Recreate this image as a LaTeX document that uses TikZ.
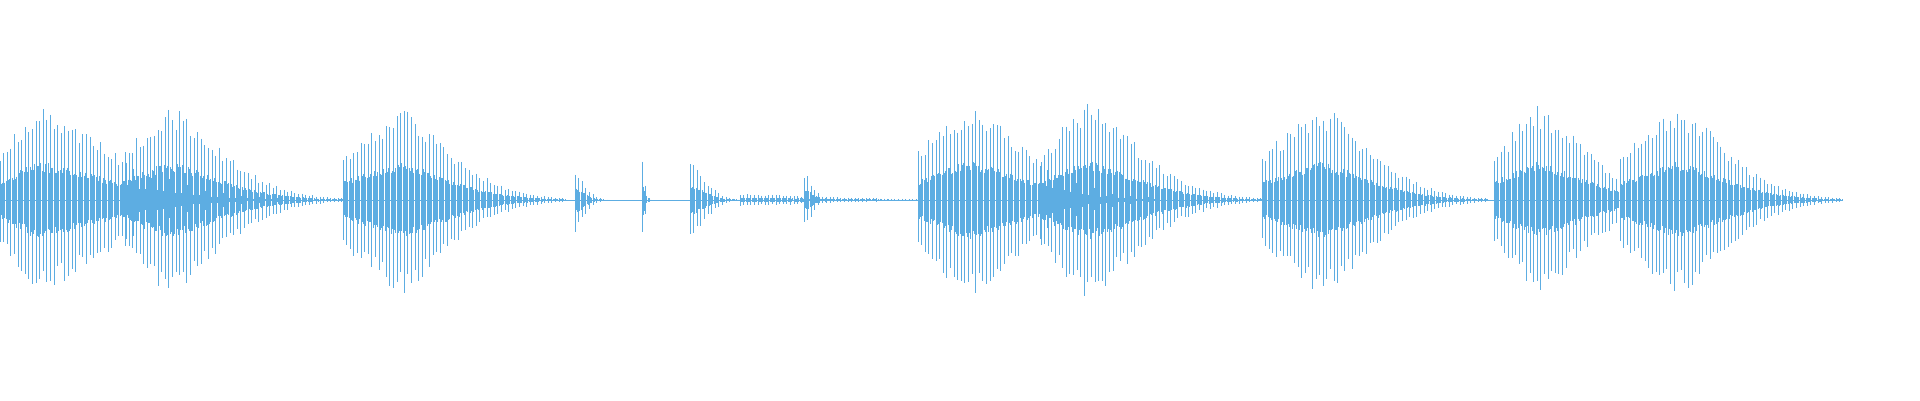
\documentclass[tikz,border=0pt]{standalone}
\definecolor{wave}{HTML}{5DADE2}
\newcommand\burst[6]{%
 \pgfmathsetmacro\blen{#2-#1}%
 \pgfmathtruncatemacro\bn{\blen/1.2}%
 \foreach \i in {0,...,\bn}{%
  \pgfmathsetmacro\bx{#1+\i*1.2}%
  \pgfmathsetmacro\bu{\i*1.2/\blen}%
  \pgfmathsetmacro\bv{max((\bu-#4)/(1-#4),0.0001)}%
  \pgfmathsetmacro\be{\bu<#4 ? #6+(1-#6)*\bu/#4 : exp(-#5*(\bv^1.6))}%
  \pgfmathsetmacro\bm{mod(\i,3)==0 ? 1 : 0.4}%
  \pgfmathsetmacro\ht{#3*\be*\bm*(0.75+0.25*rnd)}%
  \pgfmathsetmacro\hb{#3*\be*\bm*(0.75+0.25*rnd)}%
  \draw[wavestroke] (\bx,200-\ht) -- (\bx,200+\hb);
 }}
\begin{document}
\begin{tikzpicture}[x=1pt,y=-1pt,wavestroke/.style={draw=wave,line width=0.7pt}]
\pgfmathsetseed{4242}
\useasboundingbox (0,0) rectangle (1920,400);
\draw[wavestroke,line width=0.6pt] (0,200) -- (1843,200);
\burst{0}{283}{95}{0.12}{4}{0.5}
\burst{122}{343}{95}{0.2}{4}{0.5}
\burst{343}{565}{95}{0.25}{4}{0.5}
\burst{575}{610}{32}{0.02}{5}{1}
\burst{642}{652}{42}{0.05}{5}{1}
\burst{690}{740}{38}{0.01}{4}{1}
\burst{740}{918}{6}{0.01}{2}{1}
\burst{804}{835}{28}{0.02}{5}{1}
\burst{918}{1160}{98}{0.2}{4}{0.5}
\burst{1041}{1262}{98}{0.2}{4}{0.5}
\burst{1262}{1488}{95}{0.25}{4}{0.5}
\burst{1494}{1700}{95}{0.2}{4}{0.5}
\burst{1620}{1843}{95}{0.25}{4}{0.5}
\end{tikzpicture}
\end{document}
